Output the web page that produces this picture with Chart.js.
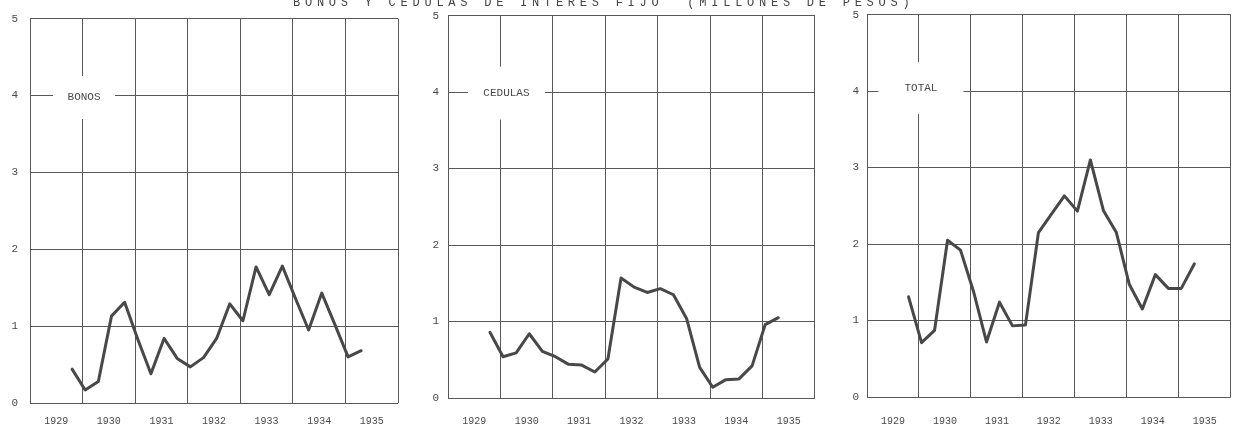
<!DOCTYPE html>
<html>
<head>
<meta charset="utf-8">
<script src="https://cdn.jsdelivr.net/npm/chart.js@4.4.1/dist/chart.umd.min.js"></script>
<style>
  html, body { margin: 0; padding: 0; background: #fff; }
  body { width: 1235px; height: 428px; position: relative; overflow: hidden; }
  canvas { position: absolute; top: 0; }
</style>
</head>
<body>
<canvas id="title" width="1235" height="12" style="left:0"></canvas>
<canvas id="bonos"></canvas>
<canvas id="cedulas"></canvas>
<canvas id="total"></canvas>
<script>
// quarterly observations, millions of pesos
const periods = [
  '1929-IV',
  '1930-I', '1930-II', '1930-III', '1930-IV',
  '1931-I', '1931-II', '1931-III', '1931-IV',
  '1932-I', '1932-II', '1932-III', '1932-IV',
  '1933-I', '1933-II', '1933-III', '1933-IV',
  '1934-I', '1934-II', '1934-III', '1934-IV',
  '1935-I', '1935-II'
];
const bonos   = [0.44, 0.17, 0.28, 1.13, 1.31, 0.83, 0.38, 0.84, 0.58, 0.47, 0.59, 0.84, 1.29, 1.07, 1.77, 1.41, 1.78, 1.36, 0.95, 1.43, 1.02, 0.60, 0.68];
const cedulas = [0.86, 0.54, 0.59, 0.84, 0.61, 0.54, 0.44, 0.43, 0.34, 0.51, 1.57, 1.45, 1.38, 1.43, 1.35, 1.04, 0.40, 0.14, 0.24, 0.25, 0.42, 0.96, 1.05];
const total   = [1.31, 0.71, 0.87, 2.05, 1.92, 1.38, 0.72, 1.24, 0.93, 0.94, 2.15, 2.39, 2.63, 2.43, 3.10, 2.44, 2.15, 1.47, 1.15, 1.60, 1.42, 1.42, 1.74];
const yearLabels = ['1929', '1930', '1931', '1932', '1933', '1934', '1935'];
const yTicks = [0, 1, 2, 3, 4, 5];
const titleText = 'BONOS Y CEDULAS DE INTERES FIJO  (MILLONES DE PESOS)';

const INK = '#484848';
const GRID = '#595959';
const TEXT = '#4a4a4a';
const FONT = '"Liberation Mono", monospace';
const Y_AXIS_W = 30;

const ROMAN = { I: 0, II: 1, III: 2, IV: 3 };
function periodX(p) {
  const [yr, q] = p.split('-');
  return Number(yr) + ROMAN[q] / 4 + 0.05;
}

// typewritten, letter-spaced heading, half cut off by the top edge
(function drawTitle() {
  const ctx = document.getElementById('title').getContext('2d');
  const step = 11.95;
  const x0 = 293;
  ctx.fillStyle = '#444';
  ctx.font = '12px ' + FONT;
  ctx.textAlign = 'left';
  ctx.textBaseline = 'alphabetic';
  [...titleText].forEach((ch, i) => ctx.fillText(ch, x0 + i * step, 6));
})();

// white box with the panel name sitting on the 1930 / 4 crossing
const panelLabel = {
  id: 'panelLabel',
  beforeDatasetsDraw(chart, args, opts) {
    const { ctx, scales } = chart;
    const cx = scales.x.getPixelForValue(opts.atX) + opts.dx;
    const cy = scales.y.getPixelForValue(opts.atY) + opts.dy;
    ctx.save();
    ctx.fillStyle = '#fff';
    ctx.fillRect(cx - opts.w / 2, cy - opts.h / 2, opts.w, opts.h);
    ctx.fillStyle = TEXT;
    ctx.font = '11px ' + FONT;
    ctx.textAlign = 'center';
    ctx.textBaseline = 'middle';
    ctx.fillText(opts.text, cx, cy);
    ctx.restore();
  }
};

const panels = [
  { id: 'bonos',   name: 'BONOS',   values: bonos,   left: 30,  right: 398,  top: 10, bottom: 403, yPad: 12, xPad: 12, dx: 1.5, dy: 2,  w: 62, h: 43 },
  { id: 'cedulas', name: 'CEDULAS', values: cedulas, left: 448, right: 817,  top: 7,  bottom: 398, yPad: 9,  xPad: 17, dx: 6,   dy: 1,  w: 77, h: 53 },
  { id: 'total',   name: 'TOTAL',   values: total,   left: 867, right: 1234, top: 8,  bottom: 397, yPad: 8,  xPad: 18, dx: 2,   dy: -3, w: 85, h: 52 }
];

function makePanel(p) {
  const canvas = document.getElementById(p.id);
  canvas.width = Y_AXIS_W + (p.right - p.left) + 1;
  canvas.height = 428;
  canvas.style.left = (p.left - Y_AXIS_W) + 'px';

  new Chart(canvas, {
    type: 'line',
    data: {
      datasets: [{
        data: periods.map((per, i) => ({ x: periodX(per), y: p.values[i] })),
        borderColor: INK,
        borderWidth: 3,
        pointRadius: 0,
        tension: 0,
        borderJoinStyle: 'round',
        borderCapStyle: 'round'
      }]
    },
    options: {
      responsive: false,
      animation: false,
      layout: { padding: { top: p.top, right: 1, left: 0, bottom: 0 } },
      plugins: {
        legend: { display: false },
        tooltip: { enabled: false },
        panelLabel: { text: p.name, atX: 1930, atY: 4, dx: p.dx, dy: p.dy, w: p.w, h: p.h }
      },
      scales: {
        x: {
          type: 'linear', min: 1929, max: 1936,
          ticks: { display: false, stepSize: 1 },
          grid: { color: GRID, lineWidth: 1, drawTicks: false },
          border: { display: false },
          afterFit: s => { s.height = 0; }
        },
        years: {
          type: 'linear', position: 'bottom', min: 1929, max: 1936,
          grid: { display: false, drawTicks: false },
          border: { display: false },
          afterBuildTicks: s => { s.ticks = yearLabels.map((_, i) => ({ value: 1929.5 + i })); },
          ticks: {
            autoSkip: false, maxRotation: 0, padding: p.xPad,
            color: TEXT, font: { family: FONT, size: 10 },
            callback: v => yearLabels[Math.floor(v) - 1929]
          },
          afterFit: s => { s.height = 428 - p.bottom; }
        },
        y: {
          min: 0, max: 5,
          afterBuildTicks: s => { s.ticks = yTicks.map(v => ({ value: v })); },
          ticks: { padding: p.yPad, color: TEXT, font: { family: FONT, size: 11 } },
          grid: { color: GRID, lineWidth: 1, drawTicks: false },
          border: { display: false },
          afterFit: s => { s.width = Y_AXIS_W; }
        }
      }
    },
    plugins: [panelLabel]
  });
}

panels.forEach(makePanel);
</script>
</body>
</html>
